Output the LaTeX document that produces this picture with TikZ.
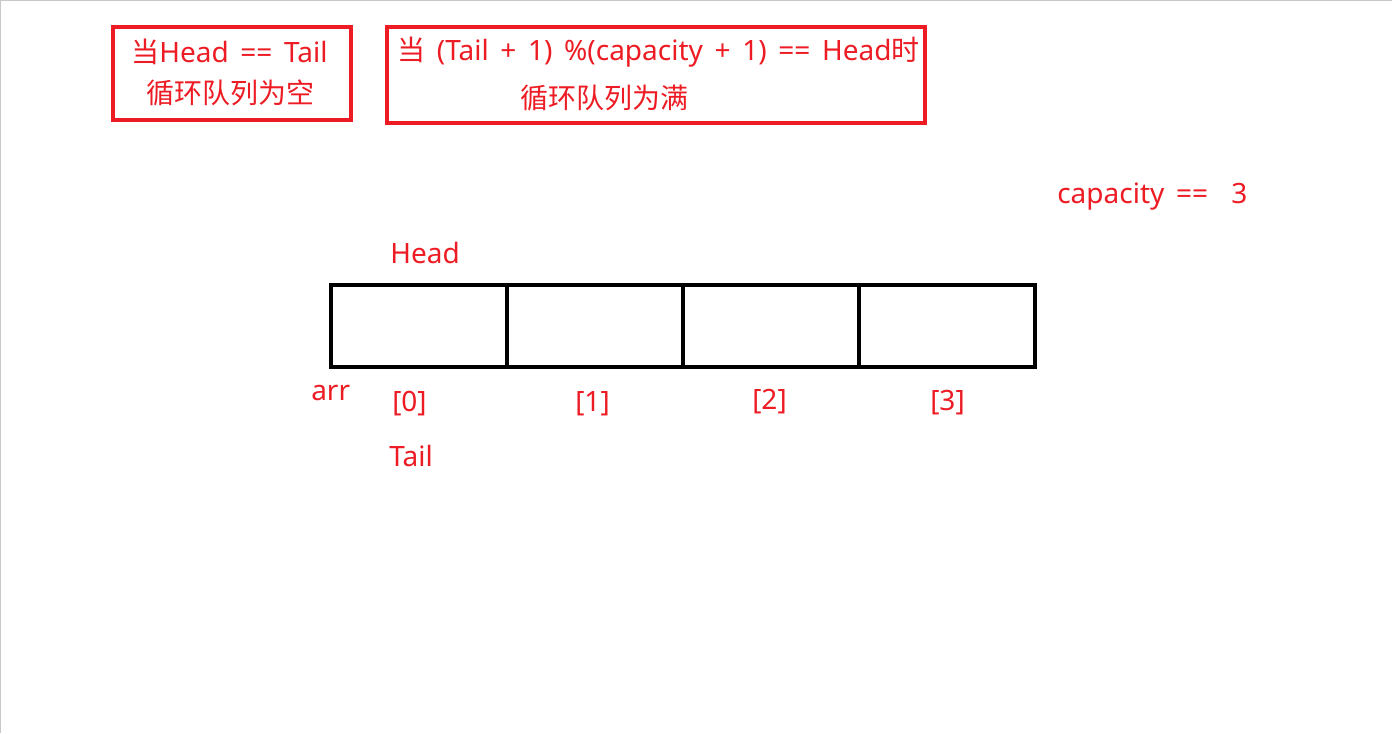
\documentclass[tikz,border=0pt]{standalone}
\usepackage{fontspec}
\setmainfont{Noto Sans}[WordSpace=1.6]
\newfontfamily\cjk{Noto Sans CJK SC}
\definecolor{pred}{HTML}{ED1C24}
\definecolor{edgegray}{HTML}{C8C8C8}
\begin{document}
\begin{tikzpicture}[x=0.75pt,y=-0.75pt,
  redbox/.style={draw=pred,line width=3pt,inner sep=0pt},
  cell/.style={draw=black,line width=3pt,minimum width=132pt,minimum height=61.5pt,inner sep=0pt},
  lbl/.style={text=pred,font=\fontsize{21pt}{25pt}\selectfont,inner sep=0pt,anchor=west}]
\useasboundingbox (0,0) rectangle (1392,733);
\fill[white] (0,0) rectangle (1392,733);
\draw[edgegray,line width=0.75pt] (0.5,733) -- (0.5,0.5) -- (1392,0.5);
% top boxes
\node[redbox,minimum width=178.5pt,minimum height=69.75pt] (b1) at (232,73.5) {};
\node[redbox,minimum width=403.5pt,minimum height=72pt] (b2) at (656,75) {};
\node[lbl] (t1a) at (131,52) {{\cjk 当}Head == Tail};
\node[lbl] (t1b) at (146,93) {\cjk 循环队列为空};
\node[lbl] (t2a) at (397,52) {{\cjk 当} (Tail + 1) \%(capacity + 1) == Head{\cjk 时}};
\node[lbl] (t2b) at (520,98) {\cjk 循环队列为满};
\node[lbl] (cap) at (1057,197) {capacity ==\ \ 3};
% array
\node[cell] (c0) at (418.5,326) {};
\node[cell] (c1) at (595,326) {};
\node[cell] (c2) at (771,326) {};
\node[cell] (c3) at (947,326) {};
\node[lbl] (head) at (390,253) {Head};
\node[lbl] (arr) at (311,393) {arr};
\node[lbl] (i0) at (392,404) {[0]};
\node[lbl] (i1) at (575,404) {[1]};
\node[lbl] (i2) at (752,402) {[2]};
\node[lbl] (i3) at (930,403) {[3]};
\node[lbl] (tail) at (389,456) {Tail};
\end{tikzpicture}
\end{document}
